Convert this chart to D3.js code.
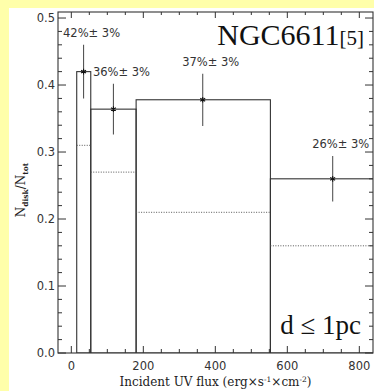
<!DOCTYPE html>
<html><head><meta charset="utf-8">
<script src="https://cdn.jsdelivr.net/npm/d3@7"></script>
<style>html,body{margin:0;padding:0;background:#FFFFAA;}svg{display:block;}</style>
</head><body>
<script>
// Data
const binEdges = [15, 54, 180, 553, 1000];
const fractions = [0.42, 0.364, 0.378, 0.26];
const dottedLevels = [0.31, 0.27, 0.21, 0.16];
const pointX = [34, 117, 365, 726];
const pointY = [0.42, 0.364, 0.378, 0.26];
const pointErr = [0.04, 0.038, 0.039, 0.034];
const pctLabels = ["42%\u00B1 3%", "36%\u00B1 3%", "37%\u00B1 3%", "26%\u00B1 3%"];
const xTicks = [0, 200, 400, 600, 800];
const yTicks = [0.0, 0.1, 0.2, 0.3, 0.4, 0.5];
const yTickLabels = ["0.0", "0.1", "0.2", "0.3", "0.4", "0.5"];

const W = 374, H = 391;
const L = 58, R = 373, T = 12, B = 353;
const svg = d3.select("body").append("svg").attr("width", W).attr("height", H);
svg.append("rect").attr("width", W).attr("height", H).attr("fill", "#FFFFAA");
svg.append("rect").attr("x", 9).attr("y", 8).attr("width", W - 9).attr("height", H - 8).attr("fill", "#fff");

const x = d3.scaleLinear().domain([-37, 838]).range([L, R]);
const y = d3.scaleLinear().domain([0, 0.509]).range([B, T]);

svg.append("defs").append("clipPath").attr("id", "clip")
  .append("rect").attr("x", L).attr("y", T).attr("width", R - L).attr("height", B - T);
const g = svg.append("g").attr("clip-path", "url(#clip)");

const bins = fractions.map((f, i) => ({x0: binEdges[i], x1: binEdges[i + 1], f, d: dottedLevels[i]}));
// bars
g.selectAll("rect.bar").data(bins).join("rect").attr("class", "bar")
  .attr("x", d => x(d.x0)).attr("width", d => x(d.x1) - x(d.x0))
  .attr("y", d => y(d.f)).attr("height", d => y(0) - y(d.f))
  .attr("fill", "none").attr("stroke", "#333").attr("stroke-width", 1.1);
// dotted
g.selectAll("line.dot").data(bins).join("line").attr("class", "dot")
  .attr("x1", d => x(d.x0)).attr("x2", d => x(d.x1))
  .attr("y1", d => y(d.d)).attr("y2", d => y(d.d))
  .attr("stroke", "#555").attr("stroke-width", 1).attr("stroke-dasharray", "1,1.5");

// points
const pts = pointX.map((px, i) => ({x: px, y: pointY[i], e: pointErr[i], lab: pctLabels[i]}));
svg.selectAll("line.err").data(pts).join("line").attr("class", "err")
  .attr("x1", d => x(d.x)).attr("x2", d => x(d.x))
  .attr("y1", d => y(d.y + d.e)).attr("y2", d => y(d.y - d.e))
  .attr("stroke", "#555").attr("stroke-width", 1.1);
svg.selectAll("path.pt").data(pts).join("path").attr("class", "pt")
  .attr("transform", d => `translate(${x(d.x)},${y(d.y)})`)
  .attr("d", d3.symbol(d3.symbolAsterisk, 22))
  .attr("stroke", "#111").attr("stroke-width", 1.1).attr("fill", "none");
svg.selectAll("text.pct").data(pts).join("text").attr("class", "pct")
  .attr("x", d => x(d.x) + 8).attr("y", d => y(d.y + d.e) - 8)
  .attr("text-anchor", "middle").attr("font-family", "DejaVu Sans").attr("font-size", 11.5)
  .attr("fill", "#333").text(d => d.lab);

// axes frame
const axisColor = "#333";
svg.append("rect").attr("x", L).attr("y", T).attr("width", R - L).attr("height", B - T)
  .attr("fill", "none").attr("stroke", axisColor).attr("stroke-width", 1.1);

const yMinor = d3.range(0, 0.51, 0.02);
const xMinor = d3.range(0, 838, 50);
const tk = svg.append("g").attr("stroke", axisColor).attr("stroke-width", 1);
// left and right
yMinor.forEach(v => {
  const major = Math.abs(v * 10 - Math.round(v * 10)) < 1e-6;
  const len = major ? 8 : 4;
  tk.append("line").attr("x1", L).attr("x2", L + len).attr("y1", y(v)).attr("y2", y(v));
  tk.append("line").attr("x1", R).attr("x2", R - len).attr("y1", y(v)).attr("y2", y(v));
});
xMinor.forEach(v => {
  const major = v % 200 === 0;
  tk.append("line").attr("x1", x(v)).attr("x2", x(v)).attr("y1", B).attr("y2", B - (major ? 7 : 4));
  tk.append("line").attr("x1", x(v)).attr("x2", x(v)).attr("y1", T).attr("y2", T + (major ? 6 : 3));
});

// tick labels
svg.selectAll("text.yl").data(yTicks).join("text").attr("class", "yl")
  .attr("x", L - 3).attr("y", d => y(d) + 4).attr("text-anchor", "end")
  .attr("font-family", "DejaVu Sans").attr("font-size", 11.5).attr("fill", "#333")
  .text((d, i) => yTickLabels[i]);
svg.selectAll("text.xl").data(xTicks).join("text").attr("class", "xl")
  .attr("x", d => x(d)).attr("y", 370).attr("text-anchor", "middle")
  .attr("font-family", "DejaVu Sans").attr("font-size", 11.5).attr("fill", "#333")
  .text(d => d);

// x title
const xt = svg.append("text").attr("x", (L + R) / 2).attr("y", 386).attr("text-anchor", "middle")
  .attr("font-family", "DejaVu Serif").attr("font-size", 12).attr("fill", "#222");
xt.append("tspan").text("Incident UV flux (erg\u00D7s");
xt.append("tspan").attr("font-size", 7.5).attr("dy", -4.5).text("-1");
xt.append("tspan").attr("dy", 4.5).text("\u00D7cm");
xt.append("tspan").attr("font-size", 7.5).attr("dy", -4.5).text("-2");
xt.append("tspan").attr("dy", 4.5).text(")");

// y title
const yt = svg.append("text").attr("transform", "translate(25,190) rotate(-90)").attr("text-anchor", "middle")
  .attr("font-family", "DejaVu Serif").attr("font-size", 12).attr("fill", "#222");
yt.append("tspan").text("N");
yt.append("tspan").attr("font-size", 7.5).attr("dy", 3).attr("font-weight", "bold").text("disk");
yt.append("tspan").attr("dy", -3).text("/N");
yt.append("tspan").attr("font-size", 7.5).attr("dy", 3).attr("font-weight", "bold").text("tot");

// annotations
const nt = svg.append("text").attr("x", 364).attr("y", 45).attr("text-anchor", "end")
  .attr("font-family", "Liberation Serif").attr("fill", "#111");
nt.append("tspan").attr("font-size", 30).text("NGC6611");
nt.append("tspan").attr("font-size", 21).text("[5]");
svg.append("text").attr("x", 361).attr("y", 334).attr("text-anchor", "end")
  .attr("font-family", "Liberation Serif").attr("font-size", 27).attr("fill", "#111")
  .text("d \u2264 1pc");
</script>
</body></html>
